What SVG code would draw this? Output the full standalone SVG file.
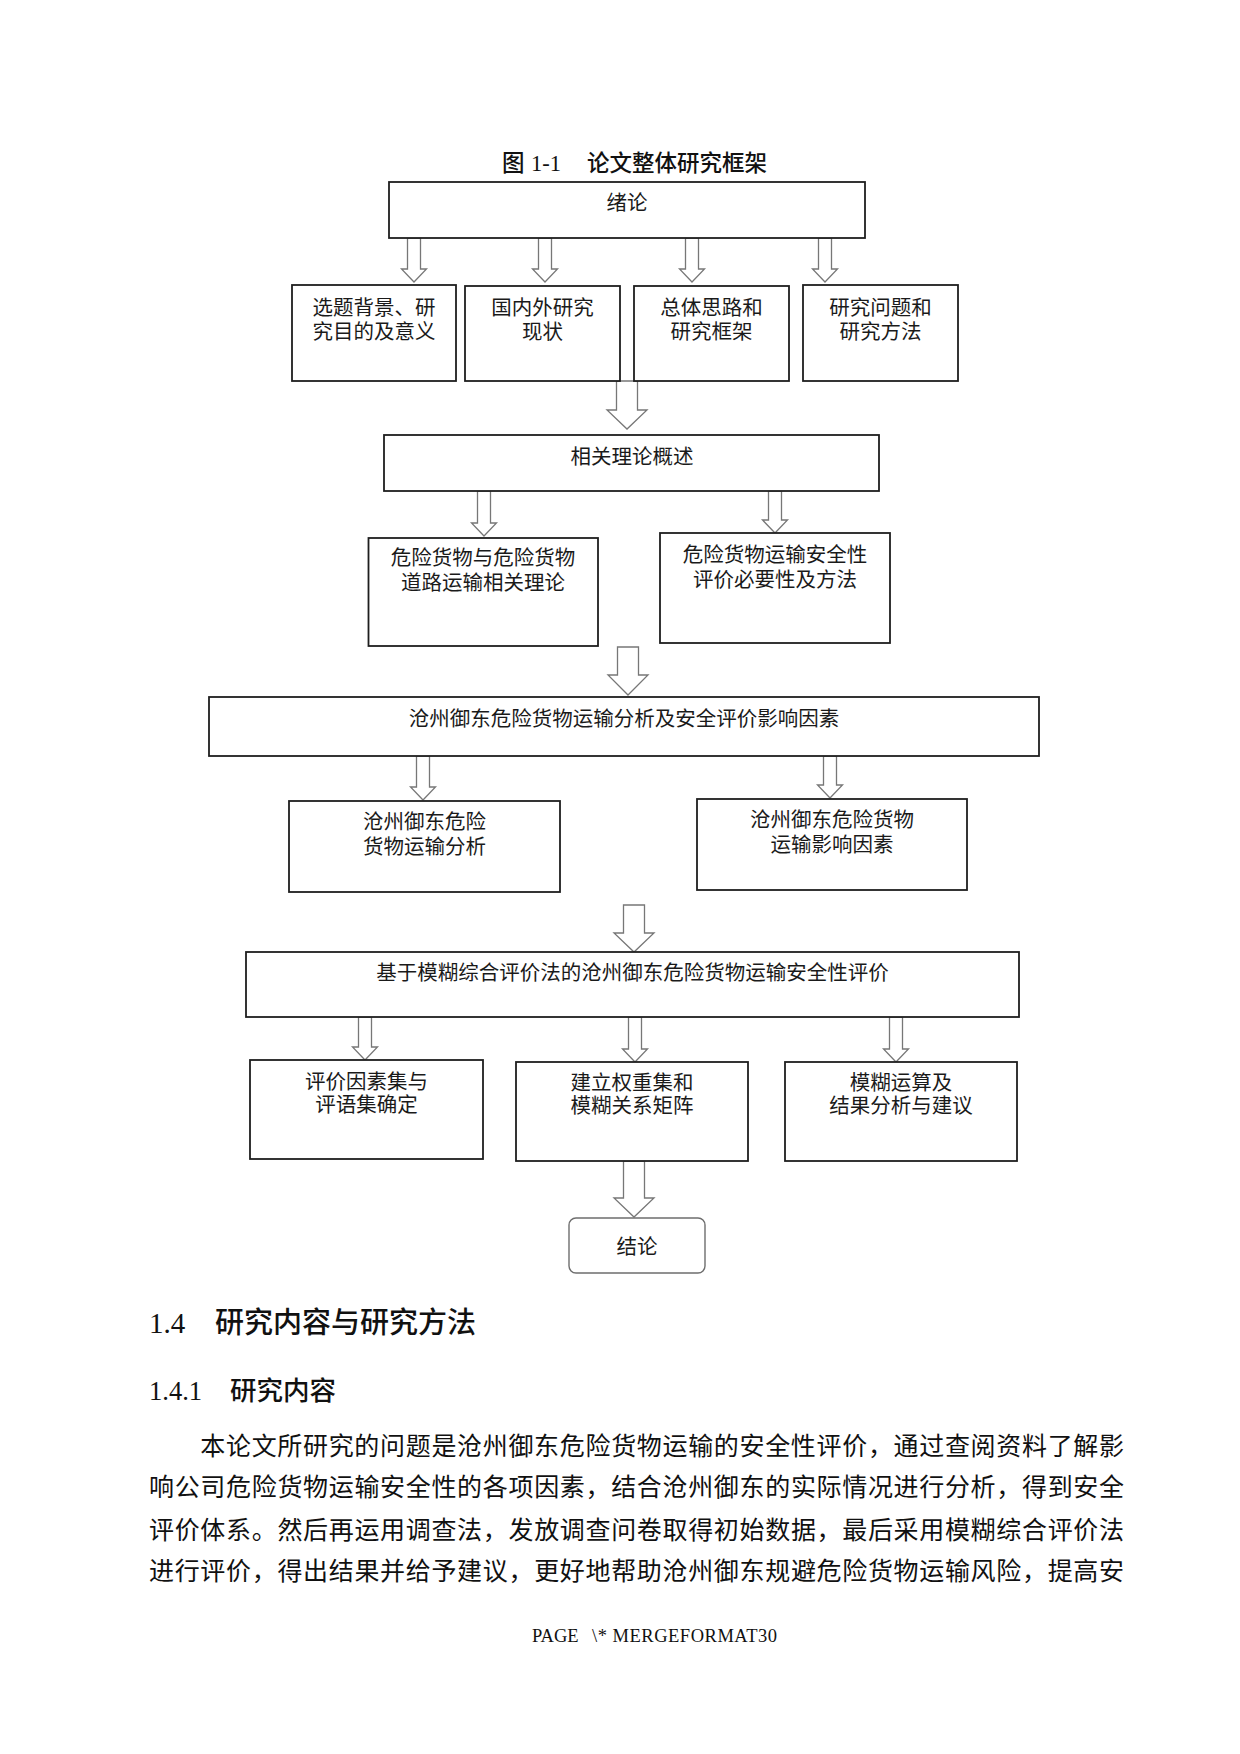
<svg xmlns="http://www.w3.org/2000/svg" width="1240" height="1754" viewBox="0 0 1240 1754">
<style>
.box{fill:#fff;stroke:#1e1e1e;stroke-width:1.8}
.rbox{fill:#fff;stroke:#6e6e6e;stroke-width:1.4}
.arr{fill:#fff;stroke:#777;stroke-width:1.3;stroke-linejoin:miter}
.t{font-family:"Liberation Sans","Noto Sans CJK SC",sans-serif;font-size:20.5px;text-anchor:middle;fill:#1a1a1a}
.cjk{font-family:"Noto Sans CJK SC",sans-serif;fill:#111}
.ser{font-family:"Liberation Serif","Noto Sans CJK SC",serif;fill:#111}
.body{font-family:"Noto Sans CJK SC",sans-serif;font-size:25px;fill:#111}
</style>
<rect width="1240" height="1754" fill="#fff"/>

<g id="title">
<text class="cjk" x="502" y="171" font-size="22.5" font-weight="500">图</text>
<text class="ser" x="531" y="171" font-size="22.5">1-1</text>
<text class="cjk" x="587" y="171" font-size="22.5" font-weight="500" textLength="180" lengthAdjust="spacing">论文整体研究框架</text>
</g>

<g id="connectors">
<path class="arr" d="M407.5 238V269H401.5L414 282L426.5 269H420.5V238Z"/>
<path class="arr" d="M538.5 238V269H532.5L545 282L557.5 269H551.5V238Z"/>
<path class="arr" d="M685.5 238V269H679.5L692 282L704.5 269H698.5V238Z"/>
<path class="arr" d="M818.5 238V269H812.5L825 282L837.5 269H831.5V238Z"/>
<path class="arr" d="M616.5 381V410H607L627 429L647 410H637.5V381Z"/>
<path class="arr" d="M477.5 491V523H471.5L484 536L496.5 523H490.5V491Z"/>
<path class="arr" d="M768.5 491V520H762.5L775 533L787.5 520H781.5V491Z"/>
<path class="arr" d="M617.5 647V675H608L628 695L648 675H638.5V647Z"/>
<path class="arr" d="M416.5 756V787H410.5L423 800L435.5 787H429.5V756Z"/>
<path class="arr" d="M823.5 756V785H817.5L830 798L842.5 785H836.5V756Z"/>
<path class="arr" d="M623.5 905V933H614L634 952L654 933H644.5V905Z"/>
<path class="arr" d="M358.5 1017V1047H352.5L365 1060L377.5 1047H371.5V1017Z"/>
<path class="arr" d="M628.5 1017V1049H622.5L635 1062L647.5 1049H641.5V1017Z"/>
<path class="arr" d="M889.5 1017V1049H883.5L896 1062L908.5 1049H902.5V1017Z"/>
<path class="arr" d="M623.5 1161V1198H614L634 1217L654 1198H644.5V1161Z"/>
</g>

<g id="n-xulun">
<rect class="box" x="389" y="182" width="476" height="56"/>
<text class="t" x="627" y="210">绪论</text>
</g>
<g id="n-bg">
<rect class="box" x="292" y="285" width="164" height="96"/>
<text class="t" x="374" y="315">选题背景、研<tspan x="374" dy="23.5">究目的及意义</tspan></text>
</g>
<g id="n-status">
<rect class="box" x="465" y="286" width="155" height="95"/>
<text class="t" x="542.5" y="315">国内外研究<tspan x="542.5" dy="23.5">现状</tspan></text>
</g>
<g id="n-frame">
<rect class="box" x="634" y="286" width="155" height="95"/>
<text class="t" x="711.5" y="315">总体思路和<tspan x="711.5" dy="23.5">研究框架</tspan></text>
</g>
<g id="n-method">
<rect class="box" x="803" y="285" width="155" height="96"/>
<text class="t" x="880.5" y="315">研究问题和<tspan x="880.5" dy="23.5">研究方法</tspan></text>
</g>

<g id="n-theory">
<rect class="box" x="384" y="435" width="495" height="56"/>
<text class="t" x="632" y="464">相关理论概述</text>
</g>
<g id="n-theoryA">
<rect class="box" x="368.5" y="538" width="229.5" height="108"/>
<text class="t" x="483" y="565">危险货物与危险货物<tspan x="483" dy="25">道路运输相关理论</tspan></text>
</g>
<g id="n-theoryB">
<rect class="box" x="660" y="533" width="230" height="110"/>
<text class="t" x="775" y="562">危险货物运输安全性<tspan x="775" dy="25">评价必要性及方法</tspan></text>
</g>

<g id="n-analysis">
<rect class="box" x="209" y="697" width="830" height="59"/>
<text class="t" x="624" y="726">沧州御东危险货物运输分析及安全评价影响因素</text>
</g>
<g id="n-analysisA">
<rect class="box" x="289" y="801" width="271" height="91"/>
<text class="t" x="424.5" y="829">沧州御东危险<tspan x="424.5" dy="25">货物运输分析</tspan></text>
</g>
<g id="n-analysisB">
<rect class="box" x="697" y="799" width="270" height="91"/>
<text class="t" x="832" y="827">沧州御东危险货物<tspan x="832" dy="25">运输影响因素</tspan></text>
</g>

<g id="n-fuzzy">
<rect class="box" x="246" y="952" width="773" height="65"/>
<text class="t" x="632.5" y="980">基于模糊综合评价法的沧州御东危险货物运输安全性评价</text>
</g>
<g id="n-fuzzyA">
<rect class="box" x="250" y="1060" width="233" height="99"/>
<text class="t" x="366.5" y="1089">评价因素集与<tspan x="366.5" dy="23">评语集确定</tspan></text>
</g>
<g id="n-fuzzyB">
<rect class="box" x="516" y="1062" width="232" height="99"/>
<text class="t" x="632" y="1090">建立权重集和<tspan x="632" dy="23">模糊关系矩阵</tspan></text>
</g>
<g id="n-fuzzyC">
<rect class="box" x="785" y="1062" width="232" height="99"/>
<text class="t" x="901" y="1090">模糊运算及<tspan x="901" dy="23">结果分析与建议</tspan></text>
</g>

<g id="n-end">
<rect class="rbox" x="569" y="1218" width="136" height="55" rx="7"/>
<text class="t" x="637" y="1254">结论</text>
</g>

<g id="page-text">
<text class="ser" x="149" y="1333" font-size="29">1.4</text>
<text class="cjk" x="215" y="1333" font-size="29" font-weight="500" textLength="261" lengthAdjust="spacing">研究内容与研究方法</text>
<text class="ser" x="149" y="1400" font-size="26.5">1.4.1</text>
<text class="cjk" x="230" y="1400" font-size="26.5" font-weight="500" textLength="106" lengthAdjust="spacing">研究内容</text>
<text class="body" x="200.3" y="1455" textLength="923.7" lengthAdjust="spacing">本论文所研究的问题是沧州御东危险货物运输的安全性评价，通过查阅资料了解影</text>
<text class="body" x="149" y="1496" textLength="975" lengthAdjust="spacing">响公司危险货物运输安全性的各项因素，结合沧州御东的实际情况进行分析，得到安全</text>
<text class="body" x="149" y="1539" textLength="975" lengthAdjust="spacing">评价体系。然后再运用调查法，发放调查问卷取得初始数据，最后采用模糊综合评价法</text>
<text class="body" x="149" y="1580" textLength="975" lengthAdjust="spacing">进行评价，得出结果并给予建议，更好地帮助沧州御东规避危险货物运输风险，提高安</text>
<text class="ser" x="532" y="1642" font-size="18.5">PAGE</text>
<text class="ser" x="592" y="1642" font-size="18.5" textLength="185" lengthAdjust="spacing">\* MERGEFORMAT30</text>
</g>
</svg>
